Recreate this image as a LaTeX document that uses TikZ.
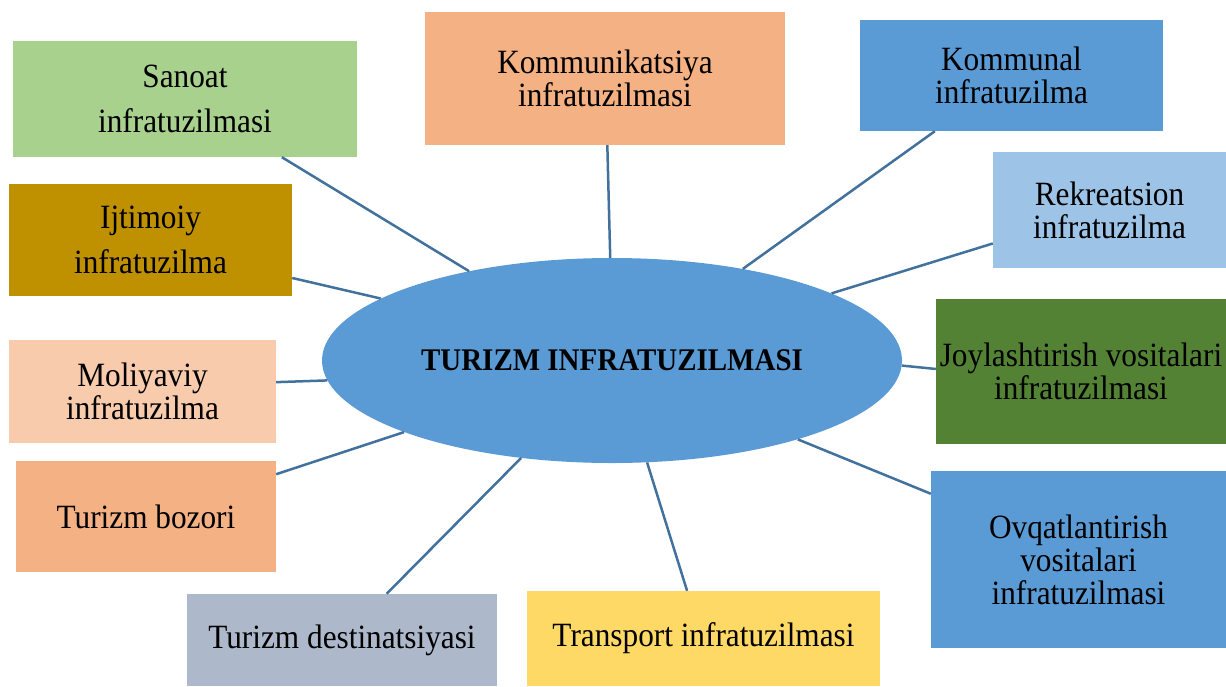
\documentclass[tikz,border=0pt]{standalone}
\usepackage{fontspec}
\setmainfont[FakeStretch=0.92]{Liberation Serif}
\usetikzlibrary{shapes.geometric}

\definecolor{sanoatgreen}{HTML}{A9D18E}
\definecolor{peach}{HTML}{F4B183}
\definecolor{midblue}{HTML}{5B9BD5}
\definecolor{paleblue}{HTML}{9DC3E6}
\definecolor{gold}{HTML}{BF9000}
\definecolor{darkgreen}{HTML}{548235}
\definecolor{palepeach}{HTML}{F8CBAD}
\definecolor{greyblue}{HTML}{ADB9CA}
\definecolor{yellow}{HTML}{FFD966}
\definecolor{linkblue}{HTML}{41719C}

\begin{document}
\begin{tikzpicture}[x=1pt,y=-1pt]
    \useasboundingbox (0,0) rectangle (1226,686);

        \begin{scope}[every node/.style={rectangle,inner sep=0pt,align=center,font=\fontsize{34}{33}\selectfont}]
            \node[fill=sanoatgreen,minimum width=344,minimum height=116,font=\fontsize{34}{45}\selectfont] (sanoat) at (185,99) {Sanoat\\infratuzilmasi};
            \node[fill=peach,minimum width=360,minimum height=133] (kommunikatsiya) at (605,78.5) {Kommunikatsiya\\infratuzilmasi};
            \node[fill=midblue,minimum width=303,minimum height=111] (kommunal) at (1011.5,75.5) {Kommunal\\infratuzilma};
            \node[fill=paleblue,minimum width=233,minimum height=116] (rekreatsion) at (1109.5,210) {Rekreatsion\\infratuzilma};
            \node[fill=gold,minimum width=283,minimum height=112,font=\fontsize{34}{45}\selectfont] (ijtimoiy) at (150.5,240) {Ijtimoiy\\infratuzilma};
            \node[fill=darkgreen,minimum width=290,minimum height=145] (joylashtirish) at (1081,371.5) {Joylashtirish vositalari\\infratuzilmasi};
            \node[fill=palepeach,minimum width=267,minimum height=103] (moliyaviy) at (142.5,391.5) {Moliyaviy\\infratuzilma};
            \node[fill=peach,minimum width=260,minimum height=111] (bozor) at (146,516.5) {Turizm bozori};
            \node[fill=midblue,minimum width=295,minimum height=177] (ovqatlantirish) at (1078.5,559.5) {Ovqatlantirish\\vositalari\\infratuzilmasi};
            \node[fill=greyblue,minimum width=310,minimum height=92] (destinatsiya) at (342,640) {Turizm destinatsiyasi};
            \node[fill=yellow,minimum width=353,minimum height=95] (transport) at (703.5,638.5) {Transport infratuzilmasi};

            \node[ellipse,fill=midblue,minimum width=580,minimum height=205,font=\fontsize{31.5}{31}\selectfont\bfseries] (turizm) at (612,360.5) {TURIZM INFRATUZILMASI};
        \end{scope}

        \begin{scope}[every edge/.style={draw=linkblue,line width=2.5pt}]
            \path (sanoat.-31) edge (turizm.148)
                  (kommunikatsiya.-88) edge (turizm.91)
                  (kommunal.-144) edge (turizm.35)
                  (rekreatsion.196) edge (turizm.17)
                  (ijtimoiy.-15) edge (turizm.165)
                  (joylashtirish.179) edge (turizm.-1.5)
                  (moliyaviy.4) edge (turizm.184)
                  (bozor.18) edge (turizm.199)
                  (ovqatlantirish.156) edge (turizm.-23)
                  (destinatsiya.46) edge (turizm.227)
                  (transport.109) edge (turizm.-71);
        \end{scope}

    \end{tikzpicture}
\end{document}
